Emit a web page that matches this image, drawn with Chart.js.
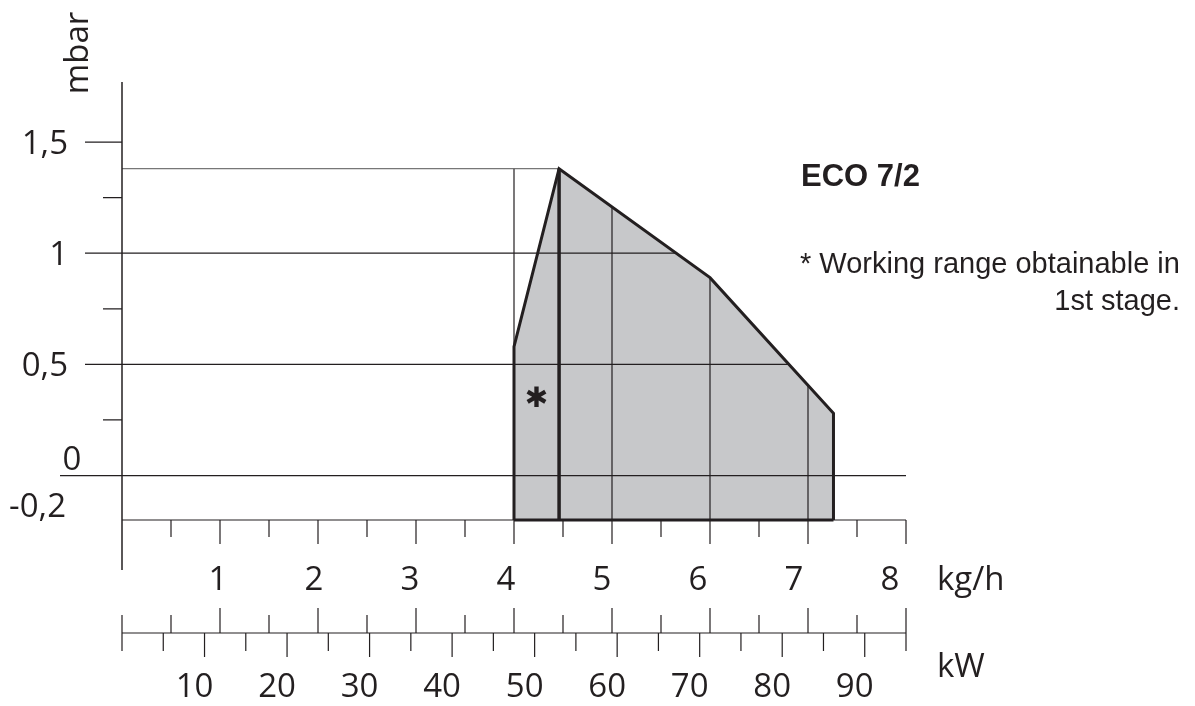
<!DOCTYPE html>
<html>
<head>
<meta charset="utf-8">
<title>ECO 7/2 working range</title>
<script src="https://cdn.jsdelivr.net/npm/chart.js@4.4.1/dist/chart.umd.min.js"></script>
<style>
  html, body { margin: 0; padding: 0; background: #fff; }
  canvas { display: block; }
</style>
</head>
<body>
<canvas id="chart" width="1195" height="706"></canvas>
<script>
// pressure axis (mbar)
const mbarTicks = [1.5, 1, 0.5, 0, -0.2];
const mbarLabels = ['1,5', '1', '0,5', '0', '-0,2'];
const mbarGrid = [0.5, 1];

// output axis (kg/h)
const kgTicks = [1, 2, 3, 4, 5, 6, 7, 8];
const kgLabels = ['1', '2', '3', '4', '5', '6', '7', '8'];
const kgGrid = [4, 5, 6, 7];

// output axis (kW)
const kwTicks = [10, 20, 30, 40, 50, 60, 70, 80, 90];
const kwLabels = ['10', '20', '30', '40', '50', '60', '70', '80', '90'];

// working range outline
const rangeKg = [4, 4, 4.46, 6, 7.26, 7.26];
const rangeMbar = [-0.2, 0.58, 1.38, 0.89, 0.28, -0.2];

// 1st stage limit
const stageKg = [4.46, 4.46];
const stageMbar = [-0.2, 1.38];

// position of the "*" note inside the range
const noteKg = 4.23;
const noteMbar = 0.34;

const ink = '#231f20';
const rangeFill = '#c7c8ca';
const numFont = '33px "Open Sans"';

function pts(xs, ys) {
    return xs.map((x, i) => ({ x: x, y: ys[i] }));
}

const axesPlugin = {
    id: 'burnerAxes',
    beforeDatasetsDraw(chart) {
        const ctx = chart.ctx;
        const x = chart.scales.x;
        const y = chart.scales.y;
        const peak = rangeMbar.indexOf(Math.max(...rangeMbar));

        ctx.save();
        ctx.strokeStyle = ink;
        ctx.lineWidth = 1.2;

        // grid stops at the envelope of the working range
        ctx.save();
        ctx.beginPath();
        ctx.moveTo(x.getPixelForValue(0), y.getPixelForValue(rangeMbar[0]));
        ctx.lineTo(x.getPixelForValue(0), y.getPixelForValue(rangeMbar[peak]));
        for (let i = peak; i < rangeKg.length; i++) {
            ctx.lineTo(x.getPixelForValue(rangeKg[i]), y.getPixelForValue(rangeMbar[i]));
        }
        ctx.closePath();
        ctx.clip();
        ctx.beginPath();
        mbarGrid.forEach(v => {
            const py = y.getPixelForValue(v);
            ctx.moveTo(x.left, py);
            ctx.lineTo(x.right, py);
        });
        kgGrid.forEach(v => {
            const px = x.getPixelForValue(v);
            ctx.moveTo(px, y.top);
            ctx.lineTo(px, y.bottom);
        });
        ctx.stroke();
        ctx.restore();

        // max pressure level
        ctx.lineWidth = 1;
        ctx.strokeStyle = '#555';
        ctx.beginPath();
        const py = y.getPixelForValue(rangeMbar[peak]);
        ctx.moveTo(x.getPixelForValue(0), py);
        ctx.lineTo(x.getPixelForValue(rangeKg[peak]), py);
        ctx.stroke();

        // zero line
        ctx.strokeStyle = ink;
        ctx.lineWidth = 1.2;
        ctx.beginPath();
        const y0 = y.getPixelForValue(0);
        ctx.moveTo(x.left - 62, y0);
        ctx.lineTo(x.right, y0);
        ctx.stroke();
        ctx.restore();
    },
    afterDatasetsDraw(chart) {
        const ctx = chart.ctx;
        const x = chart.scales.x;
        const y = chart.scales.y;
        const kw = chart.scales.kw;
        const x0 = x.getPixelForValue(0);
        const base = y.bottom;
        const ruler = base + 113;

        ctx.save();
        ctx.strokeStyle = ink;
        ctx.fillStyle = ink;

        // vertical axis
        ctx.lineWidth = 1.5;
        ctx.beginPath();
        ctx.moveTo(x0, y.top);
        ctx.lineTo(x0, base + 50);
        ctx.stroke();

        // mbar ticks
        ctx.lineWidth = 1.2;
        ctx.beginPath();
        for (let v = 0.25; v <= 1.5; v += 0.25) {
            const py = y.getPixelForValue(v);
            const major = Math.abs(v * 2 - Math.round(v * 2)) < 1e-6;
            ctx.moveTo(x0 - (major ? 37 : 19), py);
            ctx.lineTo(x0, py);
        }
        ctx.stroke();

        // kg/h axis along the bottom
        ctx.beginPath();
        ctx.moveTo(x0, base);
        ctx.lineTo(x.right, base);
        for (let v = 0.5; v <= 8; v += 0.5) {
            const px = x.getPixelForValue(v);
            ctx.moveTo(px, base);
            ctx.lineTo(px, base + (v % 1 === 0 ? 24 : 17));
        }
        ctx.stroke();

        // conversion ruler kg/h (above) / kW (below)
        ctx.beginPath();
        ctx.moveTo(x0, ruler);
        ctx.lineTo(x.right, ruler);
        for (let v = 0; v <= 8; v += 0.5) {
            const px = x.getPixelForValue(v);
            ctx.moveTo(px, ruler);
            ctx.lineTo(px, ruler - (v > 0 && v % 1 === 0 ? 25 : 18));
        }
        for (let v = 0; v <= 95; v += 5) {
            const px = kw.getPixelForValue(v);
            ctx.moveTo(px, ruler);
            ctx.lineTo(px, ruler + (v > 0 && v % 10 === 0 ? 24 : 18));
        }
        ctx.stroke();

        // tick labels
        ctx.font = numFont;
        ctx.textBaseline = 'alphabetic';
        mbarTicks.forEach((v, i) => {
            const py = y.getPixelForValue(v);
            if (v > 0) {
                ctx.textAlign = 'right';
                ctx.fillText(mbarLabels[i], x0 - 54, py + 12);
            } else if (v === 0) {
                ctx.textAlign = 'center';
                ctx.fillText(mbarLabels[i], x0 - 50, py - 6);
            } else {
                ctx.textAlign = 'right';
                ctx.fillText(mbarLabels[i], x0 - 56, py - 3);
            }
        });
        ctx.textAlign = 'center';
        kgTicks.forEach((v, i) => {
            ctx.fillText(kgLabels[i], x.getPixelForValue(v) - 2 * v, base + 70);
        });
        kwTicks.forEach((v, i) => {
            ctx.fillText(kwLabels[i], kw.getPixelForValue(v) - 10, base + 177);
        });

        // unit names
        ctx.textAlign = 'left';
        ctx.fillText('kg/h', x.right + 31, base + 70);
        ctx.fillText('kW', x.right + 31, base + 157);
        ctx.save();
        ctx.translate(88, 53);
        ctx.rotate(-Math.PI / 2);
        ctx.textAlign = 'center';
        ctx.fillText('mbar', 0, 0);
        ctx.restore();

        // note marker inside the range
        ctx.font = 'bold 28px "DejaVu Sans"';
        ctx.textAlign = 'center';
        ctx.textBaseline = 'middle';
        ctx.fillText('\u2731', x.getPixelForValue(noteKg), y.getPixelForValue(noteMbar));

        // model and note
        ctx.textBaseline = 'alphabetic';
        ctx.textAlign = 'left';
        ctx.font = 'bold 31px "Liberation Sans"';
        ctx.fillText('ECO 7/2', 801, 186);
        ctx.font = '29px "Liberation Sans"';
        ctx.fillText('* Working range obtainable in', 800, 273);
        ctx.textAlign = 'right';
        ctx.fillText('1st stage.', 1180, 310);
        ctx.restore();
    }
};

new Chart(document.getElementById('chart'), {
    type: 'line',
    data: {
        datasets: [
            {
                label: 'Working range',
                data: pts(rangeKg, rangeMbar),
                borderColor: ink,
                borderWidth: 3,
                backgroundColor: rangeFill,
                fill: 'start',
                pointRadius: 0,
                tension: 0,
                clip: false
            },
            {
                label: 'Range base',
                data: pts([rangeKg[0], rangeKg[rangeKg.length - 1]], [rangeMbar[0], rangeMbar[rangeMbar.length - 1]]),
                borderColor: ink,
                borderWidth: 3,
                fill: false,
                pointRadius: 0,
                clip: false
            },
            {
                label: '1st stage',
                data: pts(stageKg, stageMbar),
                borderColor: ink,
                borderWidth: 3.5,
                fill: false,
                pointRadius: 0,
                clip: false
            }
        ]
    },
    options: {
        responsive: false,
        animation: false,
        devicePixelRatio: 1,
        events: [],
        layout: { padding: { left: 122, right: 289, top: 82, bottom: 186 } },
        scales: {
            x: { type: 'linear', min: 0, max: 8, display: false },
            kw: { type: 'linear', axis: 'x', min: 0, max: 95, display: false },
            y: { type: 'linear', min: -0.2, max: 1.77, display: false }
        },
        plugins: {
            legend: { display: false },
            tooltip: { enabled: false },
            filler: { drawTime: 'beforeDatasetsDraw' }
        }
    },
    plugins: [axesPlugin]
});
</script>
</body>
</html>
